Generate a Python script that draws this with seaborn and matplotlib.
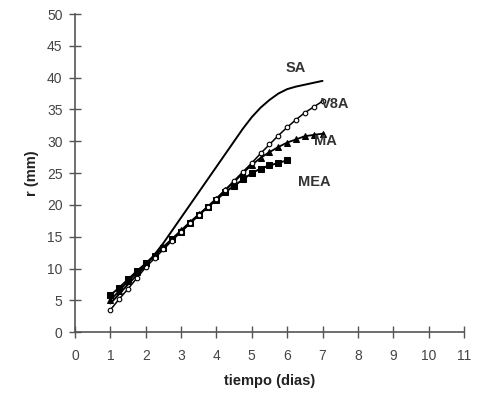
import numpy as np
import pandas as pd
import matplotlib
matplotlib.use("Agg")
import matplotlib.pyplot as plt
import seaborn as sns

# time (days), sampled every 0.25 day
t_sa = [1.0, 1.25, 1.5, 1.75, 2.0, 2.25, 2.5, 2.75, 3.0, 3.25, 3.5, 3.75, 4.0, 4.25, 4.5,
        4.75, 5.0, 5.25, 5.5, 5.75, 6.0, 6.25, 6.5, 6.75, 7.0]
r_sa = [4.5, 6.0, 7.5, 9.0, 10.5, 12.2, 14.0, 16.0, 18.0, 20.0, 22.0, 24.0, 26.0, 28.0, 30.0,
        32.0, 33.8, 35.3, 36.5, 37.5, 38.2, 38.6, 38.9, 39.2, 39.5]

t_v8a = t_sa
r_v8a = [3.5, 5.2, 6.8, 8.5, 10.2, 11.6, 13.0, 14.4, 15.8, 17.1, 18.4, 19.7, 21.0, 22.4, 23.8,
         25.2, 26.6, 28.1, 29.5, 30.9, 32.2, 33.4, 34.5, 35.4, 36.3]

t_ma = t_sa
r_ma = [5.0, 6.5, 8.0, 9.4, 10.8, 12.1, 13.4, 14.7, 16.0, 17.3, 18.5, 19.7, 21.0, 22.3, 23.6,
        25.0, 26.3, 27.4, 28.3, 29.1, 29.8, 30.3, 30.8, 31.0, 31.2]

t_mea = [1.0, 1.25, 1.5, 1.75, 2.0, 2.25, 2.5, 2.75, 3.0, 3.25, 3.5, 3.75, 4.0, 4.25, 4.5,
         4.75, 5.0, 5.25, 5.5, 5.75, 6.0]
r_mea = [5.8, 7.0, 8.3, 9.6, 10.8, 12.0, 13.3, 14.6, 15.8, 17.1, 18.4, 19.6, 20.8, 22.0, 23.0,
         24.0, 25.0, 25.7, 26.2, 26.6, 27.0]

labels = ["SA", "V8A", "MA", "MEA"]
label_pos = [(5.95, 41.6), (6.95, 35.9), (6.75, 30.0), (6.3, 23.6)]

x_ticks = list(range(0, 12))
y_ticks = list(range(0, 55, 5))

sns.set_theme(style="white")
plt.rcParams['font.family'] = ['Liberation Sans', 'DejaVu Sans']

fig = plt.figure(figsize=(4.79, 4.08), dpi=100)
ax = fig.add_axes([0.1566, 0.186, 0.812, 0.7795])

df_sa = pd.DataFrame({"t": t_sa, "r": r_sa})
df_v8a = pd.DataFrame({"t": t_v8a, "r": r_v8a})
df_ma = pd.DataFrame({"t": t_ma, "r": r_ma})
df_mea = pd.DataFrame({"t": t_mea, "r": r_mea})

sns.lineplot(data=df_mea, x="t", y="r", ax=ax, color="black", lw=1.4,
             marker="s", markersize=4.2, markerfacecolor="black", markeredgecolor="black")
sns.lineplot(data=df_ma, x="t", y="r", ax=ax, color="black", lw=1.3,
             marker="^", markersize=3.8, markerfacecolor="black", markeredgecolor="black")
sns.lineplot(data=df_v8a, x="t", y="r", ax=ax, color="black", lw=1.1,
             marker="o", markersize=3.3, markerfacecolor="white", markeredgecolor="black",
             markeredgewidth=0.8)
sns.lineplot(data=df_sa, x="t", y="r", ax=ax, color="black", lw=1.4)

for lab, (x, y) in zip(labels, label_pos):
    ax.text(x, y, lab, fontsize=10.5, fontweight="bold", color="#333333", ha="left", va="center")

ax.set_xlim(0, 11)
ax.set_ylim(0, 50)
ax.set_xticks(x_ticks)
ax.set_yticks(y_ticks)
for s in ["top", "right"]:
    ax.spines[s].set_visible(False)
for s in ["left", "bottom"]:
    ax.spines[s].set_color("#555555")
    ax.spines[s].set_linewidth(1.2)
ax.tick_params(axis="both", direction="inout", length=8, width=1.0, color="#555555",
               labelsize=10, labelcolor="#444444", bottom=True, left=True)
ax.tick_params(axis="x", pad=8)
ax.tick_params(axis="y", pad=5)
ax.set_xlabel("tiempo (dias)", fontsize=10.5, fontweight="bold", color="#222222", labelpad=8)
ax.set_ylabel("r (mm)", fontsize=10.5, fontweight="bold", color="#222222", labelpad=6)
ax.grid(False)

fig.savefig("out.png", dpi=100)
